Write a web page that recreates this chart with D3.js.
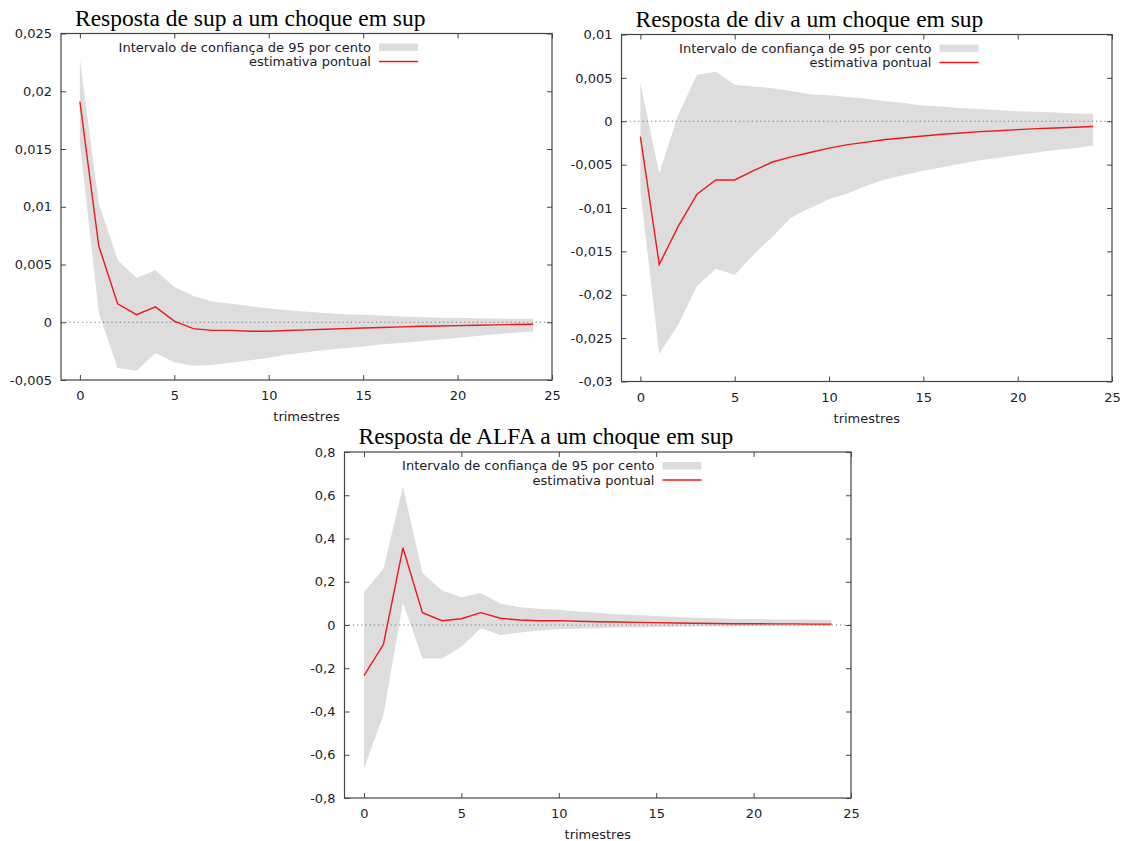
<!DOCTYPE html>
<html>
<head>
<meta charset="utf-8">
<script src="https://cdn.jsdelivr.net/npm/d3@7"></script>
<style>
  html, body { margin: 0; padding: 0; background: #fff; }
  svg { display: block; }
</style>
</head>
<body>
<svg id="chart" width="1126" height="841"></svg>
<script>
// Horizon in quarters (trimestres)
const periods = d3.range(0, 25);

// Response of sup to a shock in sup
const supPoint = [0.0191, 0.0066, 0.0016, 0.00066, 0.00133, 0.0001, -0.00055, -0.0007, -0.0007, -0.00078,
  -0.00078, -0.00072, -0.00066, -0.0006, -0.00055, -0.0005, -0.00046, -0.0004, -0.00035, -0.00032,
  -0.00029, -0.00026, -0.00023, -0.0002, -0.00017];
const supUpper = [0.0228, 0.0103, 0.0054, 0.00384, 0.0045, 0.00306, 0.0023, 0.0018, 0.0016, 0.0014,
  0.0012, 0.00104, 0.0009, 0.0008, 0.0007, 0.00066, 0.00058, 0.0005, 0.00046, 0.0004,
  0.00038, 0.00035, 0.00032, 0.0003, 0.0003];
const supLower = [0.0155, 0.0008, -0.00396, -0.0042, -0.00266, -0.00347, -0.00376, -0.0037, -0.0035, -0.0033,
  -0.0031, -0.0028, -0.0026, -0.0024, -0.00225, -0.0021, -0.0019, -0.0018, -0.00165, -0.0015,
  -0.00136, -0.0012, -0.00104, -0.0009, -0.0008];
const supTicks = [-0.005, 0, 0.005, 0.01, 0.015, 0.02, 0.025];

// Response of div to a shock in sup
const divPoint = [-0.00177, -0.0165, -0.01215, -0.0084, -0.00677, -0.00677, -0.0057, -0.0047, -0.0041, -0.0036,
  -0.0031, -0.0027, -0.0024, -0.0021, -0.0019, -0.0017, -0.0015, -0.00135, -0.0012, -0.0011,
  -0.00096, -0.00085, -0.00077, -0.0007, -0.0006];
const divUpper = [0.0044, -0.006, 0.0007, 0.00535, 0.0057, 0.0042, 0.004, 0.0038, 0.0035, 0.0031,
  0.003, 0.0028, 0.0026, 0.0023, 0.0021, 0.0018, 0.0017, 0.0015, 0.0014, 0.00127,
  0.00115, 0.0011, 0.001, 0.0009, 0.00085];
const divLower = [-0.008, -0.0268, -0.0235, -0.019, -0.017, -0.0177, -0.0154, -0.0133, -0.0111, -0.01,
  -0.009, -0.0083, -0.0074, -0.0067, -0.0062, -0.0057, -0.0053, -0.0049, -0.0045, -0.0042,
  -0.0039, -0.0036, -0.0033, -0.0031, -0.0028];
const divTicks = [-0.03, -0.025, -0.02, -0.015, -0.01, -0.005, 0, 0.005, 0.01];

// Response of ALFA to a shock in sup
const alfaPoint = [-0.234, -0.089, 0.357, 0.057, 0.02, 0.029, 0.057, 0.031, 0.023, 0.02,
  0.02, 0.017, 0.015, 0.014, 0.012, 0.011, 0.009, 0.008, 0.007, 0.006,
  0.006, 0.005, 0.005, 0.004, 0.004];
const alfaUpper = [0.151, 0.26, 0.64, 0.24, 0.16, 0.128, 0.148, 0.1, 0.082, 0.075,
  0.07, 0.062, 0.057, 0.05, 0.046, 0.042, 0.037, 0.034, 0.031, 0.029,
  0.028, 0.026, 0.025, 0.025, 0.023];
const alfaLower = [-0.665, -0.415, 0.103, -0.154, -0.155, -0.1, -0.015, -0.046, -0.035, -0.026,
  -0.018, -0.017, -0.015, -0.012, -0.011, -0.009, -0.008, -0.007, -0.006, -0.006,
  -0.005, -0.005, -0.004, -0.004, -0.003];
const alfaTicks = [-0.8, -0.6, -0.4, -0.2, 0, 0.2, 0.4, 0.6, 0.8];

const xTicks = [0, 5, 10, 15, 20, 25];
const xDomain = [-1, 25];
const xLabel = "trimestres";
const legendBand = "Intervalo de confiança de 95 por cento";
const legendLine = "estimativa pontual";

const panels = [
  { title: "Resposta de sup a um choque em sup", point: supPoint, upper: supUpper, lower: supLower,
    yDomain: [-0.005, 0.025], yTicks: supTicks, box: { left: 61, top: 33.5, right: 552, bottom: 380 } },
  { title: "Resposta de div a um choque em sup", point: divPoint, upper: divUpper, lower: divLower,
    yDomain: [-0.03, 0.01], yTicks: divTicks, box: { left: 621.5, top: 34.5, right: 1112, bottom: 381.5 } },
  { title: "Resposta de ALFA a um choque em sup", point: alfaPoint, upper: alfaUpper, lower: alfaLower,
    yDomain: [-0.8, 0.8], yTicks: alfaTicks, box: { left: 344.5, top: 452, right: 851, bottom: 798 } }
];

// Portuguese number style: comma decimal separator, ASCII hyphen for negatives
const locale = d3.formatLocale({ decimal: ",", thousands: ".", grouping: [3], currency: ["", ""], minus: "-" });
const fmt = locale.format("~g");

const svg = d3.select("#chart");
const tickFont = "'DejaVu Sans', Verdana, sans-serif";
const fontSize = 13;
const textColor = "#1c1c28";
const frameColor = "#444";
const bandColor = "#dddddd";
const lineColor = "#f01818";

panels.forEach(p => {
  const b = p.box;
  const x = d3.scaleLinear().domain(xDomain).range([b.left, b.right]);
  const y = d3.scaleLinear().domain(p.yDomain).range([b.bottom, b.top]);
  const g = svg.append("g");

  // Confidence band
  const area = d3.area()
    .x((d, i) => x(periods[i]))
    .y0((d, i) => y(p.lower[i]))
    .y1((d, i) => y(p.upper[i]));
  g.append("path").datum(p.point).attr("d", area).attr("fill", bandColor);

  // Zero reference line
  g.append("line")
    .attr("x1", b.left).attr("x2", b.right)
    .attr("y1", y(0)).attr("y2", y(0))
    .attr("stroke", "#777").attr("stroke-width", 1)
    .attr("stroke-dasharray", "1.2,3");

  // Point estimate
  const line = d3.line().x((d, i) => x(periods[i])).y(d => y(d));
  g.append("path").datum(p.point).attr("d", line)
    .attr("fill", "none").attr("stroke", lineColor).attr("stroke-width", 1.4);

  // Axes: ticks pointing inward on all four sides
  const tickLen = 5;
  const axBottom = d3.axisBottom(x).tickValues(xTicks).tickSize(-tickLen).tickPadding(11).tickFormat(fmt);
  const axTop = d3.axisTop(x).tickValues(xTicks).tickSize(-tickLen).tickFormat("");
  const axLeft = d3.axisLeft(y).tickValues(p.yTicks).tickSize(-tickLen).tickPadding(9).tickFormat(fmt);
  const axRight = d3.axisRight(y).tickValues(p.yTicks).tickSize(-tickLen).tickFormat("");

  const styleAxis = sel => {
    sel.select(".domain").remove();
    sel.selectAll(".tick line").attr("stroke", frameColor);
    sel.selectAll(".tick text").attr("fill", textColor)
      .style("font-family", tickFont).style("font-size", fontSize + "px");
  };
  g.append("g").attr("transform", `translate(0,${b.bottom})`).call(axBottom).call(styleAxis);
  g.append("g").attr("transform", `translate(0,${b.top})`).call(axTop).call(styleAxis);
  g.append("g").attr("transform", `translate(${b.left},0)`).call(axLeft).call(styleAxis);
  g.append("g").attr("transform", `translate(${b.right},0)`).call(axRight).call(styleAxis);

  // Frame
  g.append("rect")
    .attr("x", b.left).attr("y", b.top)
    .attr("width", b.right - b.left).attr("height", b.bottom - b.top)
    .attr("fill", "none").attr("stroke", frameColor).attr("stroke-width", 1.2);

  // Title
  g.append("text")
    .attr("x", b.left + 14).attr("y", b.top - 8)
    .attr("font-family", "'Liberation Serif', 'Times New Roman', serif")
    .attr("font-size", 23.5).attr("fill", "#000")
    .text(p.title);

  // x-axis label
  g.append("text")
    .attr("x", (b.left + b.right) / 2).attr("y", b.bottom + 41)
    .attr("text-anchor", "middle")
    .attr("font-family", tickFont).attr("font-size", fontSize).attr("fill", textColor)
    .text(xLabel);

  // Legend
  const lx = b.left + 310;
  const ly = b.top + 13.5;
  g.append("text").attr("x", lx).attr("y", ly + 4.5).attr("text-anchor", "end")
    .attr("font-family", tickFont).attr("font-size", fontSize).attr("fill", textColor).text(legendBand);
  g.append("rect").attr("x", lx + 8).attr("y", ly - 3.5).attr("width", 39).attr("height", 7.5)
    .attr("fill", bandColor);
  g.append("text").attr("x", lx).attr("y", ly + 19).attr("text-anchor", "end")
    .attr("font-family", tickFont).attr("font-size", fontSize).attr("fill", textColor).text(legendLine);
  g.append("line").attr("x1", lx + 8).attr("x2", lx + 47).attr("y1", ly + 14.5).attr("y2", ly + 14.5)
    .attr("stroke", lineColor).attr("stroke-width", 1.4);
});
</script>
</body>
</html>
